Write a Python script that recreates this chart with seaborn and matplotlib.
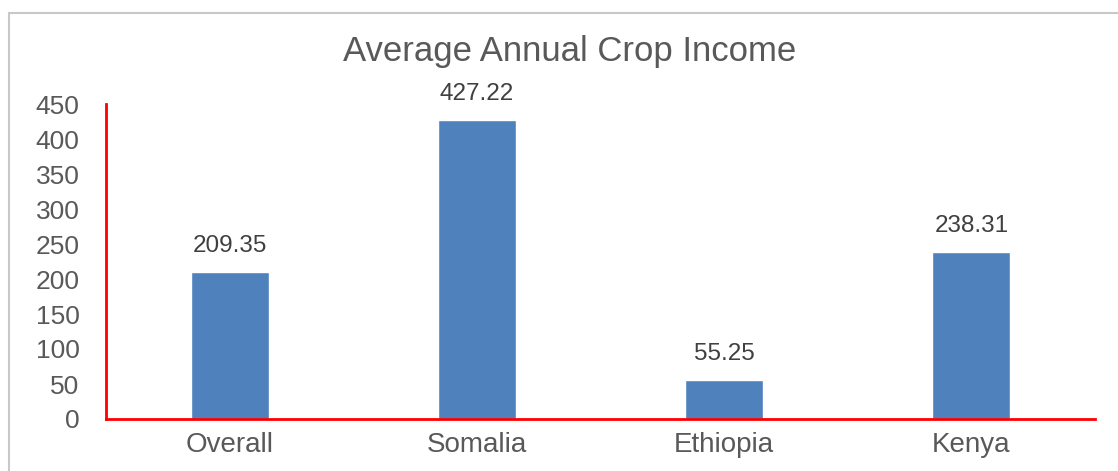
import matplotlib
matplotlib.use("Agg")
import matplotlib.pyplot as plt
import seaborn as sns
import pandas as pd
from matplotlib.patches import Rectangle

categories = ["Overall", "Somalia", "Ethiopia", "Kenya"]
values = [209.35, 427.22, 55.25, 238.31]
labels = ["209.35", "427.22", "55.25", "238.31"]
yticks = [0, 50, 100, 150, 200, 250, 300, 350, 400, 450]

sns.set_style("white")
plt.rcParams['font.family'] = ['Liberation Sans', 'DejaVu Sans']

W, H = 1118, 471
fig = plt.figure(figsize=(W / 100, H / 100), dpi=100)
ax = fig.add_axes([106 / W, 1 - 419 / H, (1095 - 106) / W, (419 - 104) / H])

df = pd.DataFrame({"cat": categories, "val": values})
sns.barplot(data=df, x="cat", y="val", color="#4F81BD", saturation=1, width=0.316, ax=ax)

ax.set_xlim(-0.5, 3.5)
ax.set_ylim(0, 450)
ax.set_yticks(yticks)
ax.set_xlabel("")
ax.set_ylabel("")
for s in ["top", "right"]:
    ax.spines[s].set_visible(False)
for s in ["left", "bottom"]:
    ax.spines[s].set_color("#FF0000")
    ax.spines[s].set_linewidth(2)
ax.tick_params(axis="both", length=0, colors="#595959")
ax.tick_params(axis="y", labelsize=19, pad=19)
ax.tick_params(axis="x", labelsize=20, pad=9)

for i, (v, t) in enumerate(zip(values, labels)):
    ax.annotate(t, (i, v), xytext=(0, 11), textcoords="offset points",
                ha="center", va="bottom", fontsize=17.5, color="#404040")

fig.text(570 / W, 1 - 51 / H, "Average Annual Crop Income", ha="center", va="center",
         fontsize=25, color="#595959")

fig.patches.append(Rectangle((9 / W, -0.1), 1.2, 1 - 13 / H + 0.1, transform=fig.transFigure,
                             fill=False, edgecolor="#C8C8C8", linewidth=1.5))

fig.savefig("out.png", dpi=100)
